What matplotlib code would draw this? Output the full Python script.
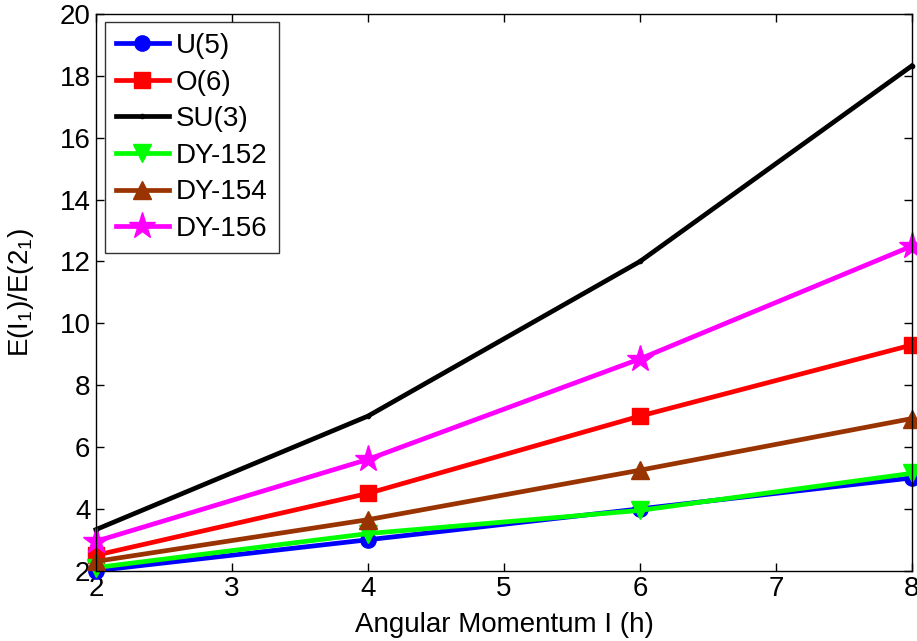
import matplotlib
matplotlib.use("Agg")
import matplotlib.pyplot as plt

plt.rcParams['font.family'] = ['Liberation Sans', 'DejaVu Sans']

spin = [2, 4, 6, 8]
u5 = [2.0, 3.0, 4.0, 5.0]
o6 = [2.5, 4.5, 7.0, 9.3]
su3 = [3.33, 7.0, 12.0, 18.33]
dy152 = [2.1, 3.2, 3.95, 5.15]
dy154 = [2.3, 3.65, 5.25, 6.92]
dy156 = [2.95, 5.6, 8.85, 12.5]

labels = ['U(5)', 'O(6)', 'SU(3)', 'DY-152', 'DY-154', 'DY-156']
colors = ['#0000ff', '#ff0000', '#000000', '#00ff00', '#993300', '#ff00ff']
markers = ['o', 's', '.', 'v', '^', '*']
msizes = [11, 11, 6, 13, 13, 20]
series = [u5, o6, su3, dy152, dy154, dy156]

fig = plt.figure(figsize=(9.17, 6.41), dpi=100)
ax = fig.add_axes([0.1047, 0.1097, 0.8898, 0.8683])

for vals, lab, c, m, ms in zip(series, labels, colors, markers, msizes):
    ax.plot(spin, vals, color=c, marker=m, markersize=ms, linewidth=3.4,
            markeredgecolor=c, markerfacecolor=c, label=lab, clip_on=False)

ax.set_xlim(2, 8)
ax.set_ylim(2, 20)
ax.set_xticks([2, 3, 4, 5, 6, 7, 8])
ax.set_yticks(list(range(2, 21, 2)))
ax.tick_params(direction='in', top=True, right=True, labelsize=20, length=6, width=1, pad=4)
for s in ax.spines.values():
    s.set_linewidth(1)

ax.set_xlabel('Angular Momentum I (h)', fontsize=20, labelpad=7)
ax.set_ylabel(r'E(I$_\mathregular{1}$)/E(2$_\mathregular{1}$)', fontsize=20, labelpad=17)

leg = ax.legend(loc='upper left', bbox_to_anchor=(0.011, 0.986), fontsize=20,
                frameon=True, fancybox=False, edgecolor='black', handlelength=1.9,
                handletextpad=0.25, borderpad=0.4, labelspacing=0.38, borderaxespad=0)
leg.get_frame().set_linewidth(1)

fig.savefig('out.png', dpi=100)
